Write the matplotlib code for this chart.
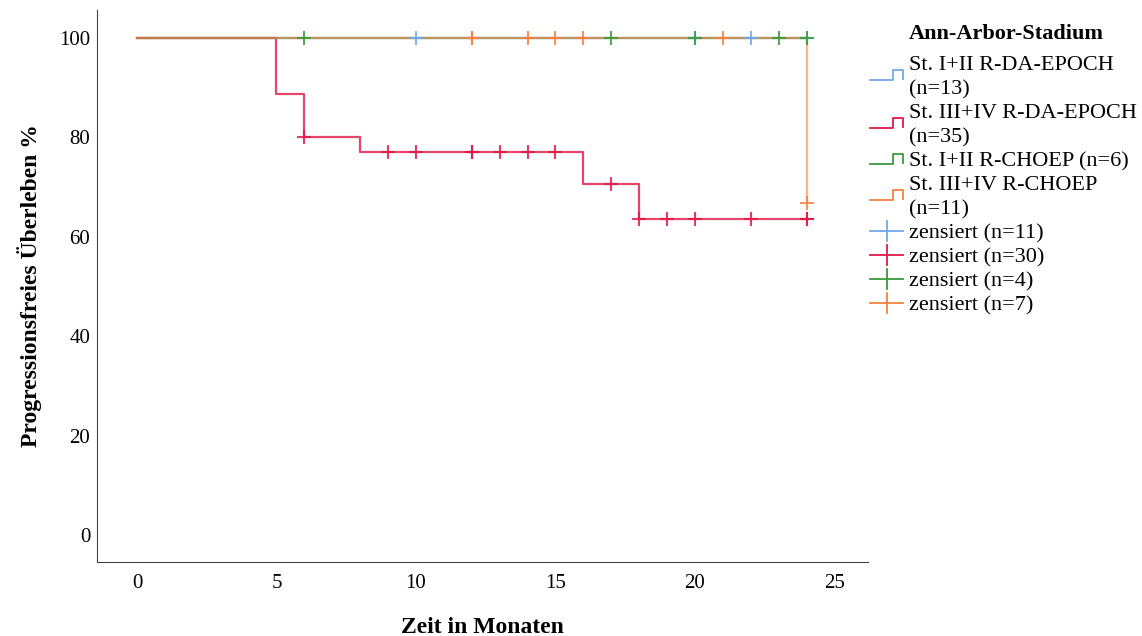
"""Kaplan-Meier Kurven: progressionsfreies Ueberleben nach Ann-Arbor-Stadium."""

import matplotlib

matplotlib.use("Agg")
import matplotlib.pyplot as plt
from matplotlib.lines import Line2D

plt.rcParams["font.family"] = ["Liberation Serif", "DejaVu Serif"]

W, H = 1142, 636

# Gruppen (Legendentexte)
legend_title = "Ann-Arbor-Stadium"
groups = [
    ["St. I+II R-DA-EPOCH", "(n=13)"],
    ["St. III+IV R-DA-EPOCH", "(n=35)"],
    ["St. I+II R-CHOEP (n=6)"],
    ["St. III+IV R-CHOEP", "(n=11)"],
]
censor_labels = ["zensiert (n=11)", "zensiert (n=30)", "zensiert (n=4)", "zensiert (n=7)"]
colors = ["#6fa8ee", "#e0184a", "#3a9a3a", "#f5813f"]
alphas = [0.6, 0.8, 0.6, 0.6]

# Stufen der Kurven (Zeit in Monaten, Ueberleben %)
blue_t = [0, 24]
blue_s = [100, 100]
red_t = [0, 5, 6, 8, 16, 18, 24]
red_s = [100, 88.6, 80.0, 77.1, 70.6, 63.6, 63.6]
green_t = [0, 24]
green_s = [100, 100]
orange_t = [0, 24]
orange_s = [100, 66.7]

# zensierte Faelle
blue_ct = [10, 20, 22, 24]
blue_cs = [100, 100, 100, 100]
red_ct = [6, 9, 10, 12, 12, 13, 14, 15, 17, 18, 19, 20, 22, 24, 24]
red_cs = [80.0, 77.1, 77.1, 77.1, 77.1, 77.1, 77.1, 77.1, 70.6, 63.6, 63.6, 63.6, 63.6, 63.6, 63.6]
green_ct = [6, 17, 20, 23, 24]
green_cs = [100, 100, 100, 100, 100]
orange_ct = [12, 12, 14, 15, 16, 21, 24]
orange_cs = [100, 100, 100, 100, 100, 100, 66.7]

curves = [(blue_t, blue_s), (red_t, red_s), (green_t, green_s), (orange_t, orange_s)]
censors = [(blue_ct, blue_cs), (red_ct, red_cs), (green_ct, green_cs), (orange_ct, orange_cs)]


def fx(px):
    return px / W


def fy(py):
    return 1 - py / H


fig = plt.figure(figsize=(W / 100, H / 100), dpi=100)
ax = fig.add_axes([0.085, 0.1164, 0.675, 0.868])

for (t, s), c, a in zip(curves, colors, alphas):
    ax.step(t, s, where="post", color=c, lw=1.6, alpha=a)
for (t, s), c in zip(censors, colors):
    ax.plot(t, s, ls="none", marker="+", ms=10, mew=1.5, color=c, alpha=0.85)

ax.set_xlim(-1.43, 26.2)
ax.set_ylim(-5.4, 105.6)
ax.set_xticks([0, 5, 10, 15, 20, 25])
ax.set_yticks([0, 20, 40, 60, 80, 100])
ax.tick_params(axis="x", length=0, labelsize=15, pad=9)
ax.tick_params(axis="y", length=0, labelsize=15, pad=5)
ax.spines["top"].set_visible(False)
ax.spines["right"].set_visible(False)
for sp in ("left", "bottom"):
    ax.spines[sp].set_color("#444444")
ax.set_xlabel("Zeit in Monaten", fontsize=17, fontweight="bold", labelpad=17)
ax.set_ylabel("Progressionsfreies Überleben %", fontsize=17, fontweight="bold", labelpad=12)

# Legende von Hand, damit die Zeilenabstaende wie im Original sind
base = 7  # Abstand Zeilenmitte -> Grundlinie in Pixeln
fig.text(fx(1006), fy(32 + base), legend_title, fontsize=16, fontweight="bold", ha="center", va="baseline")
hx0, hx1, tx = 870, 903, 909
row = 63
step = 24
for lines, c in zip(groups, colors):
    for i, txt in enumerate(lines):
        fig.text(fx(tx), fy(row + i * step + base), txt, fontsize=16, ha="left", va="baseline")
    mid = row + (len(lines) - 1) * step / 2
    xs = [hx0, hx0 + 23, hx0 + 23, hx1, hx1]
    ys = [mid + 5, mid + 5, mid - 5, mid - 5, mid + 4]
    fig.add_artist(Line2D([fx(x) for x in xs], [fy(y) for y in ys], color=c, lw=1.3))
    row += len(lines) * step
for txt, c in zip(censor_labels, colors):
    fig.text(fx(tx), fy(row + base), txt, fontsize=16, ha="left", va="baseline")
    fig.add_artist(Line2D([fx(hx0), fx(hx1)], [fy(row), fy(row)], color=c, lw=1.3))
    fig.add_artist(Line2D([fx((hx0 + hx1) / 2)] * 2, [fy(row - 10), fy(row + 10)], color=c, lw=1.3))
    row += step

fig.savefig("out.png", dpi=100)
